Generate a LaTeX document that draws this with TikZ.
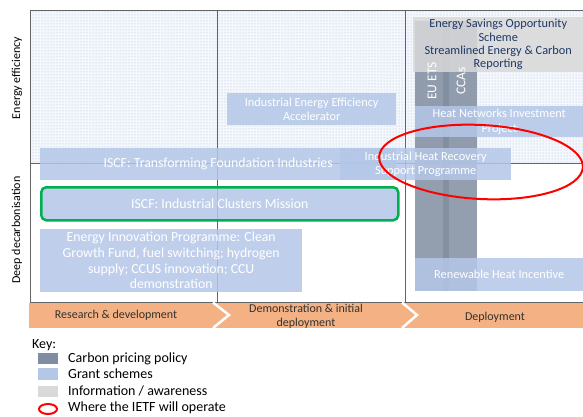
\documentclass[tikz,border=0pt]{standalone}
\usepackage{fontspec}
\setmainfont{Carlito}
\usetikzlibrary{patterns}
\definecolor{grant}{RGB}{180,199,231}
\definecolor{carbon}{RGB}{128,141,160}
\definecolor{info}{RGB}{217,217,217}
\definecolor{chev}{RGB}{244,177,131}
\definecolor{navy}{RGB}{31,56,100}
\definecolor{framec}{RGB}{100,100,100}
\definecolor{dotc}{RGB}{170,188,225}
\definecolor{dotbg}{RGB}{244,247,252}
\definecolor{iegreen}{RGB}{0,176,80}
\definecolor{labc}{RGB}{50,50,50}
\tikzset{
  grantbox/.style={anchor=north west, inner sep=0pt, fill=grant, fill opacity=0.85, text opacity=1,
    text=white, align=center, font=\fontsize{13.8}{15.7}\selectfont},
  smallgrant/.style={grantbox, font=\fontsize{12.3}{14.5}\selectfont},
  infobox/.style={anchor=north west, inner sep=0pt, fill=info, fill opacity=0.85, text opacity=1,
    text=navy, align=center, font=\fontsize{12.3}{13.8}\selectfont},
  carbonbar/.style={anchor=north west, inner sep=0pt, fill=carbon, fill opacity=0.85, draw=none},
  barlabel/.style={rotate=90, text=white, font=\fontsize{13.5}{14}\selectfont, inner sep=0pt},
  frameline/.style={draw=framec, line width=0.9pt},
  chevlabel/.style={text=labc, align=center, font=\fontsize{12}{14}\selectfont, inner sep=0pt},
  axislabel/.style={rotate=90, text=black, font=\fontsize{12}{12}\selectfont, inner sep=0pt},
  keytext/.style={anchor=west, inner sep=0pt, text=black, font=\fontsize{14}{14}\selectfont},
  ietf/.style={draw=red, line width=2pt}
}
\begin{document}
\begin{tikzpicture}[x=1pt,y=-1pt]
\useasboundingbox (0,0) rectangle (583,417);
% dotted energy-efficiency band
\fill[dotbg] (30,10) rectangle (583,163);
\fill[pattern=dots, pattern color=dotc] (30,10) rectangle (583,163);
% frame
\draw[frameline] (30,10) -- (583,10);
\draw[frameline] (30,10) -- (30,302);
\draw[frameline] (30,163) -- (583,163);
\draw[frameline] (30,302) -- (583,302);
\draw[frameline] (217,10) -- (217,302);
\draw[frameline] (405,10) -- (405,302);
% carbon pricing bars
\node[carbonbar, minimum width=34pt, minimum height=270pt] (euets) at (415,21) {};
\node[carbonbar, minimum width=34pt, minimum height=270pt] (ccas) at (443,21) {};
% grant schemes
\node[smallgrant, minimum width=169pt, minimum height=32pt] (ieea) at (227,93) {Industrial Energy Efficiency\\Accelerator};
\node[grantbox, minimum width=356pt, minimum height=32pt] (tfi) at (40,148) {ISCF: Transforming Foundation Industries};
\node[smallgrant, minimum width=171pt, minimum height=32pt] (ihrsp) at (340,148) {Industrial Heat Recovery\\Support Programme};
\node[grantbox, minimum width=357pt, minimum height=33pt, draw=iegreen, draw opacity=1, line width=2.5pt, rounded corners=5pt] (icm) at (40,186) {ISCF: Industrial Clusters Mission};
\node[grantbox, minimum width=262pt, minimum height=63pt] (eip) at (40,229) {Energy Innovation Programme: Clean\\Growth Fund, fuel switching; hydrogen\\supply; CCUS innovation; CCU\\demonstration};
\node[smallgrant, minimum width=168pt, minimum height=31pt] (hnip) at (415,106) {Heat Networks Investment\\Project};
\node[smallgrant, minimum width=168pt, minimum height=33pt] (rhi) at (415,258) {Renewable Heat Incentive};
% information / awareness
\node[infobox, minimum width=170pt, minimum height=26pt] (esos) at (413,17) {Energy Savings Opportunity\\Scheme};
\node[infobox, minimum width=170pt, minimum height=29pt] (secr) at (413,43) {Streamlined Energy \& Carbon\\Reporting};
% bar labels
\node[barlabel] (euetslab) at (432,81) {EU ETS};
\node[barlabel] (ccaslab) at (461,81) {CCAs};
% IETF ellipse
\draw[ietf, rotate around={-3:(481,162)}] (481,162) ellipse [x radius=102, y radius=37];
% stage chevrons
\fill[chev] (29,302.5) rectangle (583,328);
\draw[white, line width=2.5pt] (213,302.5) -- (229,315) -- (213,328);
\draw[white, line width=2.5pt] (402,302.5) -- (417,315) -- (402,328);
\node[chevlabel] (rd) at (116,315) {Research \& development};
\node[chevlabel] (demo) at (306,316) {Demonstration \& initial\\deployment};
\node[chevlabel] (dep) at (495,317) {Deployment};
% axis labels
\node[axislabel] (eeax) at (17,78) {Energy efficiency};
\node[axislabel] (ddax) at (17,230) {Deep decarbonisation};
% key
\node[keytext] (key) at (32,345) {Key:};
\fill[carbon] (38,353) rectangle (58,364);
\fill[grant] (38,368) rectangle (58,380);
\fill[info] (38,386) rectangle (58,397);
\draw[ietf] (48,409) ellipse [x radius=9, y radius=5];
\node[keytext] (k1) at (68,359) {Carbon pricing policy};
\node[keytext] (k2) at (68,374) {Grant schemes};
\node[keytext] (k3) at (68,391) {Information / awareness};
\node[keytext] (k4) at (68,408) {Where the IETF will operate};
\end{tikzpicture}
\end{document}
